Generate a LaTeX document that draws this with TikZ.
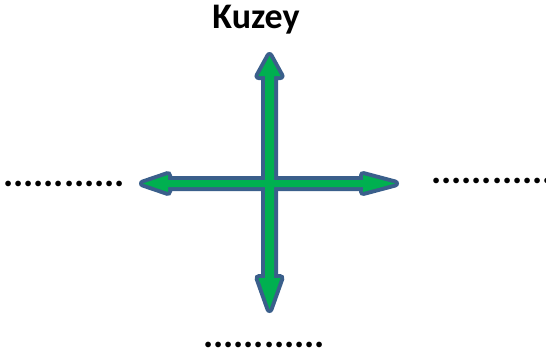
\documentclass[tikz,border=0pt]{standalone}
\usepackage{fontspec}
\setmainfont{Carlito}
\usepackage{tikz}
\usetikzlibrary{calc}
\definecolor{arrowgreen}{HTML}{00B050}
\definecolor{arrowblue}{HTML}{3A5F8B}

\begin{document}
\begin{tikzpicture}[
  x=1pt, y=-1pt,
  dirlabel/.style={font=\fontsize{36}{40}\selectfont\bfseries, inner sep=0pt, anchor=base},
  blank/.style={font=\fontsize{38}{40}\selectfont\bfseries, inner sep=0pt, anchor=base west},
  edge/.style={draw=arrowblue, line width=8pt, line join=round},
  body/.style={fill=arrowgreen}
]
  \useasboundingbox (0,0) rectangle (546,354);
  \coordinate (mid) at (269.5,183.5);
  % the cross: outline first, then the green on top
  \begin{scope}[shift={(mid)}]
    \foreach \sty in {edge,body} {
      \path[\sty] (0,-127.5) -- (11,-107.5) -- (4.5,-107.5) -- (4.5,94.5) -- (11,94.5)
        -- (0,125.5) -- (-11,94.5) -- (-4.5,94.5) -- (-4.5,-107.5) -- (-11,-107.5) -- cycle;
      \path[\sty] (-126.5,0) -- (-101.5,-8.5) -- (-101.5,-3.5) -- (93.5,-3.5) -- (93.5,-8.5)
        -- (125.5,0) -- (93.5,8.5) -- (93.5,3.5) -- (-101.5,3.5) -- (-101.5,8.5) -- cycle;
    }
  \end{scope}
  \node[dirlabel] (kuzey) at (256,28) {Kuzey};
  \node[blank] (westdots) at (3,186) {............};
  \node[blank] (eastdots) at (431,183) {............};
  \node[blank] (southdots) at (203,347) {............};
\end{tikzpicture}
\end{document}
